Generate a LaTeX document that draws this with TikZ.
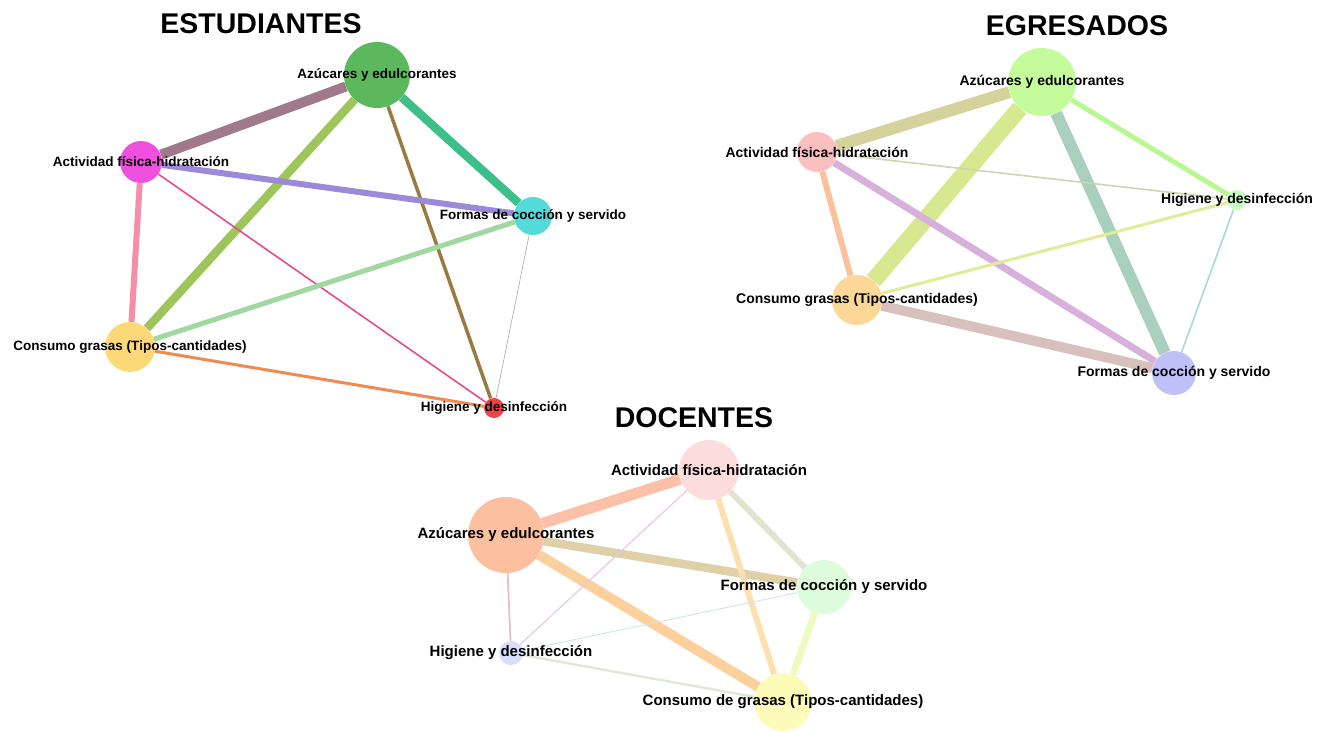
\documentclass[tikz,border=0pt]{standalone}
\usepackage{fontspec}
\setmainfont{Liberation Sans}
\usepackage{xcolor}
\usetikzlibrary{backgrounds}
% node colours
\definecolor{estAz}{HTML}{5CB85C}
\definecolor{estAct}{HTML}{F050E0}
\definecolor{estForm}{HTML}{55DADA}
\definecolor{estCons}{HTML}{FDD878}
\definecolor{estHig}{HTML}{EF4444}
\definecolor{egrAz}{HTML}{C4FC9C}
\definecolor{egrAct}{HTML}{FAC0C0}
\definecolor{egrHig}{HTML}{C8FCC0}
\definecolor{egrCons}{HTML}{FCD898}
\definecolor{egrForm}{HTML}{C0C0F8}
\definecolor{docAz}{HTML}{FCC0A0}
\definecolor{docAct}{HTML}{FCDCDC}
\definecolor{docForm}{HTML}{DCFCDC}
\definecolor{docHig}{HTML}{DCDCFC}
\definecolor{docCons}{HTML}{FCFCB8}
\tikzset{topic/.style={circle, draw=none, inner sep=0pt}}
\tikzset{title/.style={font=\bfseries\fontsize{28.5}{30}\selectfont}}
\tikzset{estlabel/.style={font=\bfseries\fontsize{13.5}{15}\selectfont, inner sep=0pt}}
\tikzset{egrlabel/.style={font=\bfseries\fontsize{14}{15}\selectfont, inner sep=0pt}}
\tikzset{doclabel/.style={font=\bfseries\fontsize{15}{16}\selectfont, inner sep=0pt}}
\tikzset{link/.style={line cap=butt}}
\begin{document}
\begin{tikzpicture}[x=1pt, y=-1pt]
	\useasboundingbox (0,0) rectangle (1325,731);
	
	% ESTUDIANTES
	\node [title] (tEst) at (261,24) {ESTUDIANTES};
	\node [topic, fill=estAz, minimum size=66pt, label={[estlabel]center:Azúcares y edulcorantes}] (eAz) at (377,75) {};
	\node [topic, fill=estAct, minimum size=42pt, label={[estlabel]center:Actividad física-hidratación}] (eAct) at (141,162) {};
	\node [topic, fill=estForm, minimum size=38pt, label={[estlabel]center:Formas de cocción y servido}] (eForm) at (533,216) {};
	\node [topic, fill=estCons, minimum size=50pt, label={[estlabel]center:Consumo grasas (Tipos-cantidades)}] (eCons) at (130,347) {};
	\node [topic, fill=estHig, minimum size=20pt, label={[estlabel]center:Higiene y desinfección}] (eHig) at (494,408) {};
	
	\begin{scope}[on background layer]
	\path[link]
	(eAz) edge [draw={rgb,255:red,160;green,122;blue,138}, line width=10] (eAct)
	(eAz) edge [draw={rgb,255:red,157;green,197;blue,90}, line width=8.5] (eCons)
	(eAz) edge [draw={rgb,255:red,61;green,191;blue,138}, line width=8.5] (eForm)
	(eAz) edge [draw={rgb,255:red,154;green,122;blue,64}, line width=3.5] (eHig)
	(eAct) edge [draw={rgb,255:red,155;green,138;blue,216}, line width=6] (eForm)
	(eAct) edge [draw={rgb,255:red,245;green,142;blue,168}, line width=6] (eCons)
	(eAct) edge [draw={rgb,255:red,232;green,74;blue,138}, line width=1.6] (eHig)
	(eForm) edge [draw={rgb,255:red,160;green,216;blue,160}, line width=5] (eCons)
	(eForm) edge [draw=gray!70, line width=0.6] (eHig)
	(eCons) edge [draw={rgb,255:red,240;green,138;blue,80}, line width=3] (eHig);
	\end{scope}
	
	% EGRESADOS
	\node [title] (tEgr) at (1077,26) {EGRESADOS};
	\node [topic, fill=egrAz, minimum size=68pt, label={[egrlabel]center:Azúcares y edulcorantes}] (gAz) at (1042,82) {};
	\node [topic, fill=egrAct, minimum size=40pt, label={[egrlabel]center:Actividad física-hidratación}] (gAct) at (817,152) {};
	\node [topic, fill=egrHig, minimum size=20pt, label={[egrlabel]center:Higiene y desinfección}] (gHig) at (1237,200) {};
	\node [topic, fill=egrCons, minimum size=50pt, label={[egrlabel]center:Consumo grasas (Tipos-cantidades)}] (gCons) at (857,300) {};
	\node [topic, fill=egrForm, minimum size=44pt, label={[egrlabel]center:Formas de cocción y servido}] (gForm) at (1174,373) {};
	
	\begin{scope}[on background layer]
	\path[link]
	(gAz) edge [draw={rgb,255:red,214;green,210;blue,156}, line width=12] (gAct)
	(gAz) edge [draw={rgb,255:red,216;green,232;blue,144}, line width=17] (gCons)
	(gAz) edge [draw={rgb,255:red,168;green,208;blue,188}, line width=12] (gForm)
	(gAz) edge [draw={rgb,255:red,184;green,248;blue,144}, line width=5] (gHig)
	(gAct) edge [draw={rgb,255:red,208;green,212;blue,176}, line width=1.6] (gHig)
	(gAct) edge [draw={rgb,255:red,252;green,192;blue,154}, line width=6] (gCons)
	(gAct) edge [draw={rgb,255:red,216;green,176;blue,220}, line width=7] (gForm)
	(gCons) edge [draw={rgb,255:red,224;green,236;blue,152}, line width=3] (gHig)
	(gCons) edge [draw={rgb,255:red,216;green,192;blue,188}, line width=10] (gForm)
	(gHig) edge [draw={rgb,255:red,168;green,216;blue,216}, line width=1.6] (gForm);
	\end{scope}
	
	% DOCENTES
	\node [title] (tDoc) at (694,418) {DOCENTES};
	\node [topic, fill=docAct, minimum size=60pt, label={[doclabel]center:Actividad física-hidratación}] (dAct) at (709,470) {};
	\node [topic, fill=docAz, minimum size=76pt, label={[doclabel]center:Azúcares y edulcorantes}] (dAz) at (506,535) {};
	\node [topic, fill=docForm, minimum size=54pt, label={[doclabel]center:Formas de cocción y servido}] (dForm) at (824,587) {};
	\node [topic, fill=docHig, minimum size=24pt, label={[doclabel]center:Higiene y desinfección}] (dHig) at (511,653) {};
	\node [topic, fill=docCons, minimum size=58pt, label={[doclabel]center:Consumo de grasas (Tipos-cantidades)}] (dCons) at (783,702) {};
	
	\begin{scope}[on background layer]
	\path[link]
	(dAz) edge [draw={rgb,255:red,252;green,192;blue,168}, line width=11] (dAct)
	(dAz) edge [draw={rgb,255:red,224;green,208;blue,168}, line width=8.5] (dForm)
	(dAz) edge [draw={rgb,255:red,252;green,208;blue,156}, line width=10] (dCons)
	(dAz) edge [draw={rgb,255:red,232;green,192;blue,192}, line width=1.8] (dHig)
	(dAct) edge [draw={rgb,255:red,232;green,200;blue,232}, line width=1.2] (dHig)
	(dAct) edge [draw={rgb,255:red,252;green,224;blue,176}, line width=6] (dCons)
	(dAct) edge [draw={rgb,255:red,224;green,228;blue,208}, line width=6] (dForm)
	(dForm) edge [draw={rgb,255:red,208;green,228;blue,232}, line width=0.9] (dHig)
	(dForm) edge [draw={rgb,255:red,236;green,252;blue,192}, line width=7] (dCons)
	(dHig) edge [draw={rgb,255:red,224;green,232;blue,216}, line width=2.4] (dCons);
	\end{scope}
\end{tikzpicture}
\end{document}
